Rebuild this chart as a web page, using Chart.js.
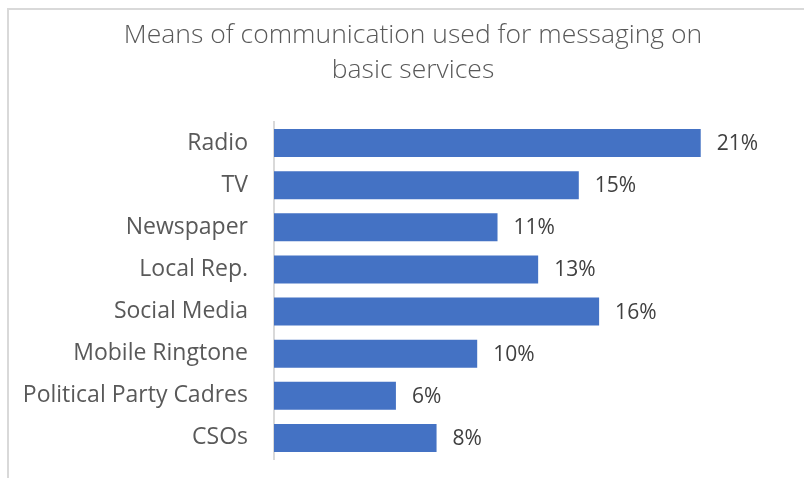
<!DOCTYPE html>
<html>
<head>
<meta charset="utf-8">
<script src="https://cdn.jsdelivr.net/npm/chart.js@4/dist/chart.umd.min.js"></script>
<style>
    html, body { margin: 0; padding: 0; background: #fff; overflow: hidden; }
    #frame {
        position: absolute;
        left: 7px;
        top: 8px;
        width: 900px;
        height: 600px;
        border-top: 2px solid #d9d9d9;
        border-left: 2px solid #d9d9d9;
    }
    #commChart { position: absolute; left: 0; top: 0; }
</style>
</head>
<body>
<div id="frame"></div>
<canvas id="commChart" width="804" height="478"></canvas>
<script>
const titleLines = ['Means of communication used for messaging on', 'basic services'];
const channels = ['Radio', 'TV', 'Newspaper', 'Local Rep.', 'Social Media', 'Mobile Ringtone', 'Political Party Cadres', 'CSOs'];
const shares = [21, 15, 11, 13, 16, 10, 6, 8];

const fontFamily = "'Open Sans', 'Noto Sans', sans-serif";

// two-line heading, centred a little right of the canvas middle
const heading = {
    id: 'heading',
    afterDraw(chart) {
        const ctx = chart.ctx;
        ctx.save();
        ctx.font = '300 26.5px ' + fontFamily;
        ctx.fillStyle = '#595959';
        ctx.textAlign = 'center';
        ctx.textBaseline = 'alphabetic';
        titleLines.forEach((line, i) => {
            ctx.fillText(line, 413, 43 + i * 35);
        });
        ctx.restore();
    }
};

// percentage printed just past the end of each bar
const valueLabels = {
    id: 'valueLabels',
    afterDatasetsDraw(chart) {
        const ctx = chart.ctx;
        const meta = chart.getDatasetMeta(0);
        ctx.save();
        ctx.font = '21px ' + fontFamily;
        ctx.fillStyle = '#404040';
        ctx.textAlign = 'left';
        ctx.textBaseline = 'middle';
        meta.data.forEach((bar, i) => {
            ctx.fillText(shares[i] + '%', bar.x + 16, bar.y + 1);
        });
        ctx.restore();
    }
};

const ctx = document.getElementById('commChart').getContext('2d');
let commChart = new Chart(ctx, {
    type: 'bar',
    data: {
        labels: channels,
        datasets: [{
            data: shares,
            backgroundColor: '#4472c4',
            borderWidth: 0,
            barPercentage: 0.665,
            categoryPercentage: 1
        }]
    },
    plugins: [valueLabels, heading],
    options: {
        indexAxis: 'y',
        responsive: false,
        animation: false,
        layout: {
            padding: { left: 0, right: 22, top: 122, bottom: 19 }
        },
        plugins: {
            legend: { display: false },
            tooltip: { enabled: false },
            title: { display: false }
        },
        scales: {
            x: {
                display: false,
                min: 0,
                max: 25
            },
            y: {
                // fixed label column; category labels never reach the plot edges
                afterFit: (scale) => {
                    scale.width = 274;
                    scale.paddingTop = 0;
                    scale.paddingBottom = 0;
                },
                grid: { display: false, drawTicks: false },
                border: { display: true, color: '#d9d9d9', width: 2 },
                ticks: {
                    color: '#595959',
                    padding: 26,
                    font: { family: fontFamily, size: 23 }
                }
            }
        }
    }
});
</script>
</body>
</html>
